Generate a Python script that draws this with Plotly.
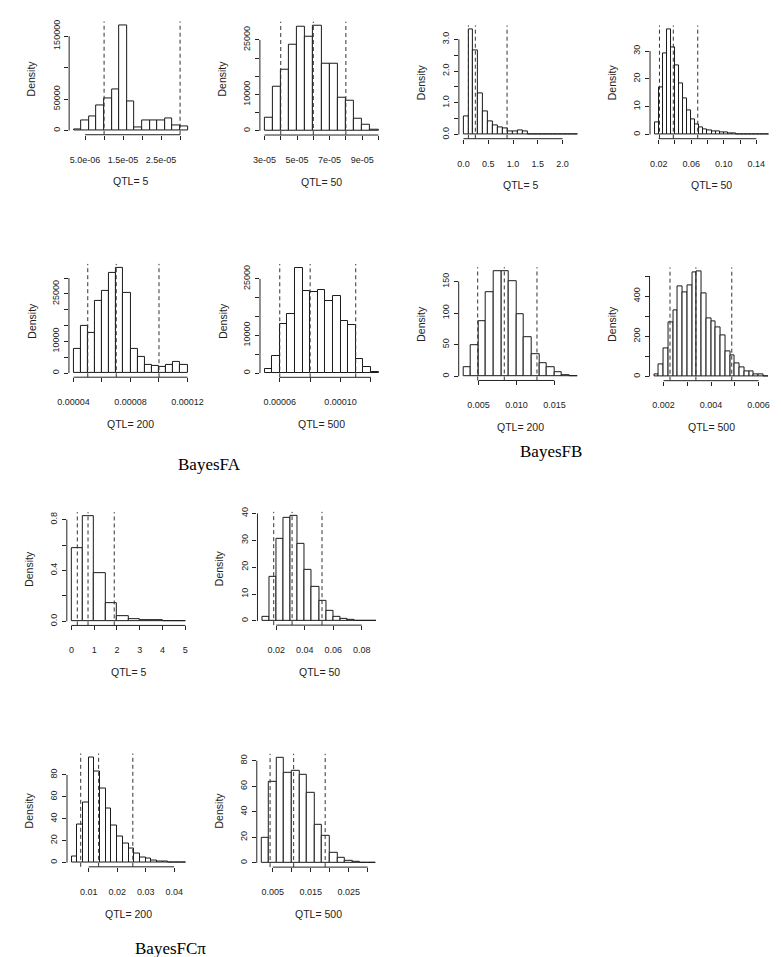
import numpy as np
import plotly.graph_objects as go

W, H = 781, 957

# ================= DATA =================
# ---- BayesFA ----
fa5_start, fa5_bin = 2e-06, 2e-06
fa5_density = [1500, 16800, 22600, 39500, 50500, 65800, 166800, 46300, 4700,
               16800, 16800, 15800, 20000, 8400, 5800]
fa5_lines = [1e-05, 3e-05]
fa5_xticks = [5e-06, 1e-05, 1.5e-05, 2e-05, 2.5e-05, 3e-05]
fa5_xlabels = ["5.0e-06", "", "1.5e-05", "", "2.5e-05", ""]
fa5_yticks = [0, 50000, 100000, 150000]
fa5_ylabels = ["0", "50000", "", "150000"]

fa50_start, fa50_bin = 3e-05, 5e-06
fa50_density = [3660, 12180, 16760, 23800, 28660, 25830, 28850, 18590, 18590,
                9070, 8240, 3200, 1650, 275]
fa50_lines = [4e-05, 6e-05, 8e-05]
fa50_xticks = [3e-05, 4e-05, 5e-05, 6e-05, 7e-05, 8e-05, 9e-05, 1e-04]
fa50_xlabels = ["3e-05", "", "5e-05", "", "7e-05", "", "9e-05", ""]
fa50_yticks = [0, 5000, 10000, 15000, 20000, 25000]
fa50_ylabels = ["0", "", "10000", "", "", "25000"]

fa200_start, fa200_bin = 4e-05, 5e-06
fa200_density = [7690, 14740, 12640, 22640, 26010, 31590, 33170, 25170, 7690,
                 4950, 2630, 2110, 1790, 2530, 3370, 2630]
fa200_lines = [5e-05, 7e-05, 1e-04]
fa200_xticks = [4e-05, 6e-05, 8e-05, 1e-04, 1.2e-04]
fa200_xlabels = ["0.00004", "", "0.00008", "", "0.00012"]
fa200_yticks = [0, 5000, 10000, 15000, 20000, 25000, 30000]
fa200_ylabels = ["0", "", "10000", "", "", "25000", ""]

fa500_start, fa500_bin = 5e-05, 5e-06
fa500_density = [1150, 4420, 13070, 15720, 27810, 21810, 21460, 21990, 19070,
                 20310, 13690, 12800, 3800, 1500, 350]
fa500_lines = [6e-05, 8e-05, 1.1e-04]
fa500_xticks = [6e-05, 8e-05, 1e-04, 1.2e-04]
fa500_xlabels = ["0.00006", "", "0.00010", ""]
fa500_yticks = [0, 5000, 10000, 15000, 20000, 25000]
fa500_ylabels = ["0", "", "10000", "", "", "25000"]

# ---- BayesFB ----
fb5_start, fb5_bin = 0.0, 0.1
fb5_density = [0.56, 3.31, 2.66, 1.30, 0.72, 0.42, 0.28, 0.23, 0.18, 0.10, 0.10,
               0.12, 0.10, 0.01, 0.01, 0.005, 0.005, 0.005, 0.003, 0.003, 0.002,
               0.002, 0.002]
fb5_lines = [0.10, 0.24, 0.88]
fb5_xticks = [0.0, 0.5, 1.0, 1.5, 2.0]
fb5_xlabels = ["0.0", "0.5", "1.0", "1.5", "2.0"]
fb5_yticks = [0.0, 0.5, 1.0, 1.5, 2.0, 2.5, 3.0]
fb5_ylabels = ["0.0", "", "1.0", "", "2.0", "", "3.0"]

fb50_start, fb50_bin = 0.015, 0.005
fb50_density = [4.4, 16.9, 29.2, 37.7, 31.4, 24.9, 18.3, 13.0, 8.6, 5.6, 3.8, 2.6,
                1.7, 1.3, 1.1, 1.2, 0.9, 0.6, 0.5, 0.4, 0.1, 0.1, 0.05, 0.05,
                0.05, 0.02, 0.02, 0.02]
fb50_lines = [0.021, 0.038, 0.068]
fb50_xticks = [0.02, 0.04, 0.06, 0.08, 0.10, 0.12, 0.14]
fb50_xlabels = ["0.02", "", "0.06", "", "0.10", "", "0.14"]
fb50_yticks = [0, 10, 20, 30]
fb50_ylabels = ["0", "10", "20", "30"]

fb200_start, fb200_bin = 0.003, 0.001
fb200_density = [14, 50, 87, 133, 166, 166, 150, 99, 62, 35, 21, 14, 7, 2, 0.5]
fb200_lines = [0.0049, 0.0084, 0.0127]
fb200_xticks = [0.005, 0.010, 0.015]
fb200_xlabels = ["0.005", "0.010", "0.015"]
fb200_yticks = [0, 50, 100, 150]
fb200_ylabels = ["0", "50", "100", "150"]

fb500_start, fb500_bin = 0.0016, 0.0002
fb500_density = [12, 61, 140, 271, 331, 450, 417, 455, 519, 522, 413, 289, 273,
                 243, 205, 124, 104, 66, 45, 25, 25, 12, 8, 2]
fb500_lines = [0.00227, 0.00336, 0.00487]
fb500_xticks = [0.002, 0.003, 0.004, 0.005, 0.006]
fb500_xlabels = ["0.002", "", "0.004", "", "0.006"]
fb500_yticks = [0, 100, 200, 300, 400, 500]
fb500_ylabels = ["0", "", "200", "", "400", ""]

# ---- BayesFCπ ----
fc5_start, fc5_bin = 0.0, 0.5
fc5_density = [0.573, 0.826, 0.379, 0.139, 0.042, 0.02, 0.01, 0.006, 0.003, 0.002]
fc5_lines = [0.26, 0.73, 1.88]
fc5_xticks = [0, 1, 2, 3, 4, 5]
fc5_xlabels = ["0", "1", "2", "3", "4", "5"]
fc5_yticks = [0.0, 0.2, 0.4, 0.6, 0.8]
fc5_ylabels = ["0.0", "", "0.4", "", "0.8"]

fc50_start, fc50_bin = 0.01, 0.005
fc50_density = [1.6, 16.4, 30.4, 38.4, 39.0, 28.5, 18.9, 12.7, 7.5, 3.8, 1.4, 0.7,
                0.3, 0.15, 0.1, 0.05]
fc50_lines = [0.0182, 0.0311, 0.0521]
fc50_xticks = [0.02, 0.04, 0.06, 0.08]
fc50_xlabels = ["0.02", "0.04", "0.06", "0.08"]
fc50_yticks = [0, 10, 20, 30, 40]
fc50_ylabels = ["0", "10", "20", "30", "40"]

fc200_start, fc200_bin = 0.004, 0.002
fc200_density = [6.0, 34.4, 54.9, 95.7, 83.0, 67.3, 49.8, 33.8, 24.2, 17.8, 13.0,
                 8.2, 5.1, 3.6, 1.5, 0.9, 0.9, 0.1, 0.05, 0.05]
fc200_lines = [0.0072, 0.0135, 0.0255]
fc200_xticks = [0.01, 0.02, 0.03, 0.04]
fc200_xlabels = ["0.01", "0.02", "0.03", "0.04"]
fc200_yticks = [0, 20, 40, 60, 80]
fc200_ylabels = ["0", "20", "40", "60", "80"]

fc500_start, fc500_bin = 0.002, 0.002
fc500_density = [19.5, 63.1, 82.1, 70.4, 71.9, 69.1, 54.7, 29.7, 21.4, 7.8, 3.6,
                 1.3, 1.0, 0.3, 0.1]
fc500_lines = [0.0043, 0.0105, 0.0188]
fc500_xticks = [0.005, 0.010, 0.015, 0.020, 0.025, 0.030]
fc500_xlabels = ["0.005", "", "0.015", "", "0.025", ""]
fc500_yticks = [0, 20, 40, 60, 80]
fc500_ylabels = ["0", "20", "40", "60", "80"]

qtl_titles = ["QTL= 5", "QTL= 50", "QTL= 200", "QTL= 500"]
group_titles = ["BayesFA", "BayesFB", "BayesFCπ"]

# ================= LAYOUT GEOMETRY (pixels) =================
PW, PH = 127, 114
panels = [
    # (start, bin, density, lines, xt, xl, yt, yl, qtl, left, top)
    (fa5_start, fa5_bin, fa5_density, fa5_lines, fa5_xticks, fa5_xlabels, fa5_yticks, fa5_ylabels, qtl_titles[0], 50.7, 8.5),
    (fa50_start, fa50_bin, fa50_density, fa50_lines, fa50_xticks, fa50_xlabels, fa50_yticks, fa50_ylabels, qtl_titles[1], 247.5, 8.8),
    (fb5_start, fb5_bin, fb5_density, fb5_lines, fb5_xticks, fb5_xlabels, fb5_yticks, fb5_ylabels, qtl_titles[0], 452.8, 12.5),
    (fb50_start, fb50_bin, fb50_density, fb50_lines, fb50_xticks, fb50_xlabels, fb50_yticks, fb50_ylabels, qtl_titles[1], 650.0, 12.5),
    (fa200_start, fa200_bin, fa200_density, fa200_lines, fa200_xticks, fa200_xlabels, fa200_yticks, fa200_ylabels, qtl_titles[2], 50.5, 252.5),
    (fa500_start, fa500_bin, fa500_density, fa500_lines, fa500_xticks, fa500_xlabels, fa500_yticks, fa500_ylabels, qtl_titles[3], 247.6, 252.6),
    (fb200_start, fb200_bin, fb200_density, fb200_lines, fb200_xticks, fb200_xlabels, fb200_yticks, fb200_ylabels, qtl_titles[2], 452.6, 255.8),
    (fb500_start, fb500_bin, fb500_density, fb500_lines, fb500_xticks, fb500_xlabels, fb500_yticks, fb500_ylabels, qtl_titles[3], 649.5, 256.0),
    (fc5_start, fc5_bin, fc5_density, fc5_lines, fc5_xticks, fc5_xlabels, fc5_yticks, fc5_ylabels, qtl_titles[0], 48.3, 502.3),
    (fc50_start, fc50_bin, fc50_density, fc50_lines, fc50_xticks, fc50_xlabels, fc50_yticks, fc50_ylabels, qtl_titles[1], 245.0, 502.0),
    (fc200_start, fc200_bin, fc200_density, fc200_lines, fc200_xticks, fc200_xlabels, fc200_yticks, fc200_ylabels, qtl_titles[2], 48.5, 745.2),
    (fc500_start, fc500_bin, fc500_density, fc500_lines, fc500_xticks, fc500_xlabels, fc500_yticks, fc500_ylabels, qtl_titles[3], 244.3, 745.5),
]
group_title_pos = [(195, 454), (548, 441), (155, 941)]

FONT = "Liberation Sans, Arial, sans-serif"
INK = "#222222"

fig = go.Figure()
shapes, annotations, axes = [], [], {}

for i, (start, binw, dens, lines, xt, xl, yt, yl, qtl, left, top) in enumerate(panels, start=1):
    xa = "x" if i == 1 else f"x{i}"
    ya = "y" if i == 1 else f"y{i}"
    dens = np.asarray(dens, dtype=float)
    edges = start + binw * np.arange(len(dens) + 1)
    centers = (edges[:-1] + edges[1:]) / 2
    fig.add_trace(go.Bar(
        x=centers, y=dens, width=binw, xaxis=xa, yaxis=ya,
        marker=dict(color="white", line=dict(color="#1a1a1a", width=1)),
        showlegend=False, hoverinfo="skip"))
    xlo, xhi = edges[0], edges[-1]
    pad = 0.04 * (xhi - xlo)
    ymax = dens.max()
    axes["xaxis" if i == 1 else f"xaxis{i}"] = dict(
        domain=[left / W, (left + PW) / W], range=[xlo - pad, xhi + pad],
        anchor=ya, tickmode="array", tickvals=xt, ticktext=xl,
        ticks="outside", ticklen=4, tickwidth=1, tickcolor=INK,
        showgrid=False, zeroline=False, showline=False, tickangle=0,
        tickfont=dict(size=9, color=INK, family=FONT),
        ticklabelstandoff=12, fixedrange=True)
    axes["yaxis" if i == 1 else f"yaxis{i}"] = dict(
        domain=[1 - (top + PH) / H, 1 - top / H],
        range=[-0.04 * ymax, 1.04 * ymax],
        anchor=xa, tickmode="array", tickvals=yt, ticktext=yl,
        ticks="outside", ticklen=4, tickwidth=1, tickcolor=INK,
        showgrid=False, zeroline=False, showline=False, tickangle=-90,
        tickfont=dict(size=9, color=INK, family=FONT),
        ticklabelstandoff=1, fixedrange=True)
    # R-style detached axis lines spanning the tick range
    shapes.append(dict(type="line", xref=xa, yref=f"{ya} domain",
                       x0=xt[0], x1=xt[-1], y0=0, y1=0,
                       line=dict(color=INK, width=1)))
    shapes.append(dict(type="line", xref=f"{xa} domain", yref=ya,
                       x0=0, x1=0, y0=yt[0], y1=yt[-1],
                       line=dict(color=INK, width=1)))
    for v in lines:
        shapes.append(dict(type="line", xref=xa, yref=f"{ya} domain",
                           x0=v, x1=v, y0=0, y1=1,
                           line=dict(color="#333333", width=1, dash="4px,3px")))
    annotations.append(dict(text="Density", xref="paper", yref="paper",
                            x=(left - 39) / W, y=1 - (top + PH / 2) / H,
                            textangle=-90, showarrow=False,
                            xanchor="center", yanchor="middle",
                            font=dict(size=10.5, color=INK, family=FONT)))
    annotations.append(dict(text=qtl, xref="paper", yref="paper",
                            x=(left + PW / 2) / W, y=1 - (top + PH + 47) / H,
                            showarrow=False, xanchor="center", yanchor="middle",
                            font=dict(size=10.5, color=INK, family=FONT)))

for txt, (px, py) in zip(group_titles, group_title_pos):
    annotations.append(dict(text=txt, xref="paper", yref="paper",
                            x=px / W, y=1 - py / H, showarrow=False,
                            xanchor="center", yanchor="middle",
                            font=dict(size=17, color="black",
                                      family="Liberation Serif, Times New Roman, serif")))

fig.update_layout(
    width=W, height=H, margin=dict(l=0, r=0, t=0, b=0),
    paper_bgcolor="white", plot_bgcolor="white",
    shapes=shapes, annotations=annotations, bargap=0,
    font=dict(family=FONT), **axes)

fig.write_html("out.html")
